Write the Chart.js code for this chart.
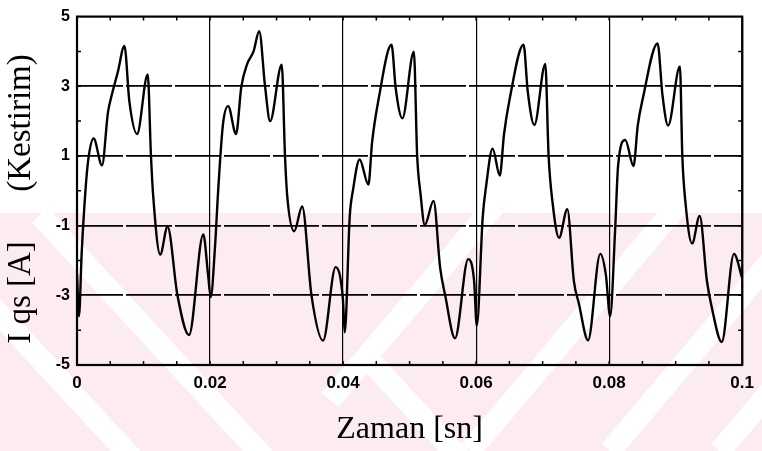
<!DOCTYPE html>
<html>
<head>
<meta charset="utf-8">
<script src="https://cdn.jsdelivr.net/npm/chart.js@4"></script>
<style>
  html, body { margin: 0; padding: 0; background: #ffffff; }
  #wrap { width: 762px; height: 451px; }
</style>
</head>
<body>
<div id="wrap"><canvas id="iqs-chart" width="762" height="451"></canvas></div>
<script>
// Estimated q-axis stator current, one array pair per supply period
const period1T = [0, 0.0003, 0.0007, 0.00127, 0.0017, 0.0025, 0.00376, 0.00466, 0.00515, 0.00615, 0.00713, 0.00788, 0.00903, 0.01063, 0.01112, 0.01146, 0.01251, 0.01361, 0.0151, 0.01684, 0.01899, 0.0197];
const period1I = [-2.4, -3.6, -1.8, 0.0, 0.9, 1.5, 0.73, 2.26, 2.69, 3.42, 4.16, 2.55, 1.63, 3.34, 1.0, -0.16, -1.83, -1.03, -3.0, -4.14, -1.25, -2.4];

const period2T = [0.0201, 0.02075, 0.02122, 0.02194, 0.02272, 0.02391, 0.0247, 0.02555, 0.02654, 0.02739, 0.02828, 0.02903, 0.03078, 0.03127, 0.03161, 0.03266, 0.03385, 0.03525, 0.03699, 0.03888, 0.03997];
const period2I = [-3.05, -1.6, 0.0, 1.9, 2.43, 1.63, 2.98, 3.62, 4.0, 4.58, 2.98, 2.0, 3.62, 1.0, -0.16, -1.16, -0.45, -3.0, -4.3, -2.19, -3.1];

const period3T = [0.04025, 0.041, 0.0415, 0.04248, 0.04381, 0.04436, 0.04535, 0.04728, 0.04792, 0.04891, 0.05064, 0.05114, 0.05163, 0.05228, 0.0536, 0.0546, 0.05535, 0.05683, 0.05881, 0.0597];
const period3I = [-4.06, -0.74, 0.03, 0.9, 0.18, 1.39, 2.64, 4.19, 2.93, 2.08, 3.99, 1.0, -0.06, -0.98, -0.29, -2.22, -3.0, -4.23, -1.96, -2.59];

const period4T = [0.0601, 0.061, 0.0615, 0.06248, 0.06356, 0.0642, 0.06505, 0.06713, 0.06777, 0.06876, 0.0704, 0.0709, 0.0715, 0.07247, 0.07371, 0.0747, 0.07544, 0.07683, 0.07866, 0.0795];
const period4I = [-3.87, -0.74, 0.13, 1.21, 0.44, 1.63, 2.64, 4.19, 2.84, 1.89, 3.64, 1.0, -0.35, -1.35, -0.53, -2.59, -3.23, -4.29, -1.81, -2.4];

const period5T = [0.08015, 0.0809, 0.08134, 0.08243, 0.08366, 0.0843, 0.08505, 0.08728, 0.08802, 0.08886, 0.09064, 0.091, 0.09148, 0.09247, 0.09361, 0.0947, 0.0954, 0.09693, 0.09876, 0.1];
const period5I = [-3.6, -1.12, 0.71, 1.46, 0.71, 1.87, 2.64, 4.23, 2.74, 1.87, 3.57, 1.0, -0.35, -1.51, -0.72, -2.59, -3.32, -4.34, -1.81, -2.5];

const xTicks = [0, 0.02, 0.04, 0.06, 0.08, 0.1];
const yTicks = [-5, -3, -1, 1, 3, 5];

const zaman = [].concat(period1T, period2T, period3T, period4T, period5T);
const akim = [].concat(period1I, period2I, period3I, period4I, period5I);
const points = zaman.map((t, i) => ({ x: t, y: akim[i] }));

const tickFont = { family: "'Liberation Sans Narrow', 'Arial Narrow', 'Liberation Sans', Arial, sans-serif", size: 17, weight: 'bold' };
const titleFont = { family: "'Liberation Serif', 'Times New Roman', serif", size: 32 };

// pale pink band with broad white diagonal stripes behind the plot
const watermark = {
  id: 'watermark',
  beforeDraw(chart) {
    const { ctx, width, height } = chart;
    const top = 213;
    ctx.save();
    ctx.fillStyle = '#fdecef';
    ctx.fillRect(0, top, width, height - top);
    ctx.beginPath();
    ctx.rect(0, top, width, height - top);
    ctx.clip();
    ctx.strokeStyle = '#ffffff';
    ctx.lineWidth = 22;
    // "\" stripes on the left part
    [[-60, 250], [40, 215], [360, 350]].forEach(([x0, y0]) => {
      ctx.beginPath();
      ctx.moveTo(x0, y0);
      ctx.lineTo(x0 + 240, y0 + 260);
      ctx.stroke();
    });
    // "/" stripes on the right part
    [[330, 400], [470, 451], [610, 451], [720, 451]].forEach(([x0, y0]) => {
      ctx.beginPath();
      ctx.moveTo(x0, y0);
      ctx.lineTo(x0 + 220, y0 - 260);
      ctx.stroke();
    });
    ctx.restore();
  }
};

// full box round the plot with small inward ticks
const frame = {
  id: 'frame',
  afterDatasetsDraw(chart) {
    const { ctx, chartArea: a, scales: { x, y } } = chart;
    ctx.save();
    ctx.strokeStyle = '#000000';
    ctx.lineWidth = 1.5;
    for (let v = -4; v <= 4; v += 1) {
      const py = y.getPixelForValue(v);
      ctx.beginPath();
      ctx.moveTo(a.left, py); ctx.lineTo(a.left + 4, py);
      ctx.moveTo(a.right, py); ctx.lineTo(a.right - 4, py);
      ctx.stroke();
    }
    for (let v = 0.005; v < 0.1; v += 0.005) {
      const px = x.getPixelForValue(v);
      ctx.beginPath();
      ctx.moveTo(px, a.bottom); ctx.lineTo(px, a.bottom - 4);
      ctx.moveTo(px, a.top); ctx.lineTo(px, a.top + 4);
      ctx.stroke();
    }
    ctx.lineWidth = 2.2;
    ctx.strokeRect(a.left, a.top, a.right - a.left, a.bottom - a.top);
    ctx.restore();
  }
};

const ctx = document.getElementById('iqs-chart').getContext('2d');
const chart = new Chart(ctx, {
  type: 'line',
  data: {
    datasets: [
      {
        data: points,
        borderColor: '#000000',
        borderWidth: 2.4,
        pointRadius: 0,
        cubicInterpolationMode: 'monotone',
        fill: false,
      },
    ],
  },
  options: {
    responsive: false,
    animation: false,
    events: [],
    layout: { padding: { top: 13, right: 11, left: 0, bottom: 0 } },
    plugins: { legend: { display: false }, tooltip: { enabled: false } },
    scales: {
      x: {
        type: 'linear',
        min: 0,
        max: 0.1,
        afterFit: (scale) => { scale.height = 86; },
        afterBuildTicks: (scale) => { scale.ticks = xTicks.map((v) => ({ value: v })); },
        grid: { color: '#000000', lineWidth: 1.2, drawTicks: false },
        border: { display: false },
        ticks: {
          color: '#000000',
          font: tickFont,
          padding: 8,
          maxRotation: 0,
          callback: (v) => String(+v.toFixed(2)),
        },
        title: {
          display: true,
          text: 'Zaman [sn]',
          color: '#000000',
          font: titleFont,
          padding: { top: 0, bottom: 2 },
        },
      },
      y: {
        type: 'linear',
        min: -5,
        max: 5,
        afterFit: (scale) => { scale.width = 77; },
        afterBuildTicks: (scale) => { scale.ticks = yTicks.map((v) => ({ value: v })); },
        grid: {
          color: (c) => (Math.abs(c.tick.value) === 5 ? 'rgba(0,0,0,0)' : '#000000'),
          lineWidth: 1.8,
          drawTicks: false,
        },
        border: { display: false, dash: [46, 3] },
        ticks: {
          color: '#000000',
          font: { ...tickFont, size: 16 },
          padding: 7,
          callback: (v) => String(v),
        },
        title: {
          display: true,
          text: 'I qs [A]      (Kestirim)  ',
          color: '#000000',
          font: { ...titleFont, size: 33 },
          padding: { top: 2, bottom: 0 },
        },
      },
    },
  },
  plugins: [watermark, frame],
});
</script>
</body>
</html>
